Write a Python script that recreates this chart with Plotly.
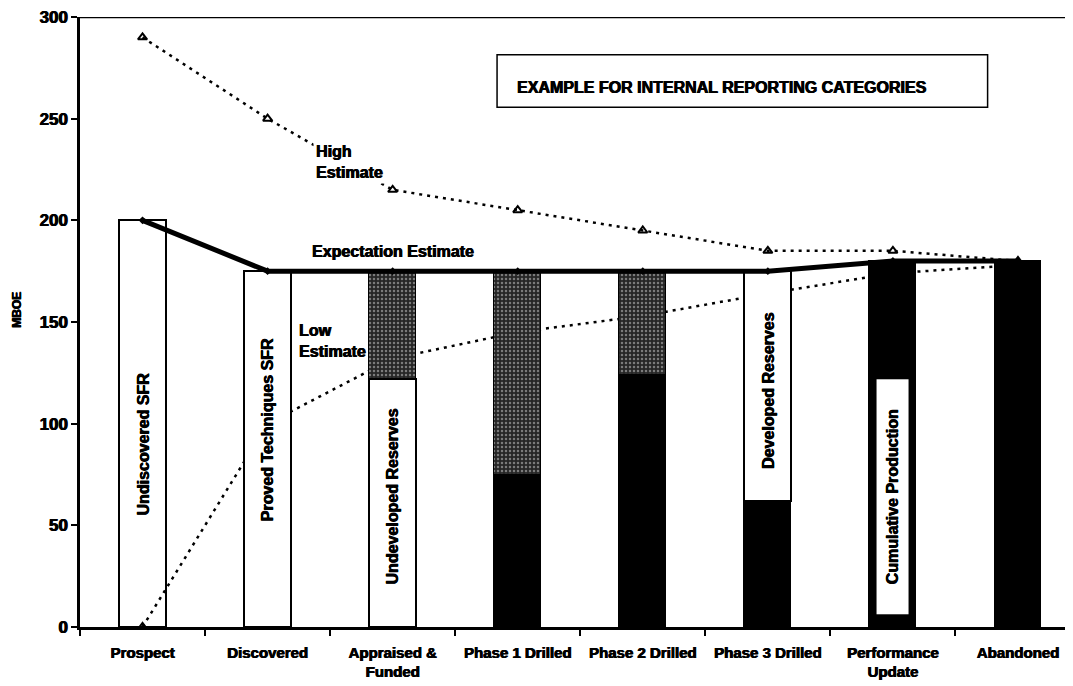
import plotly.graph_objects as go

# ---------------- data ----------------
categories = ["Prospect", "Discovered", "Appraised &<br>Funded", "Phase 1 Drilled",
              "Phase 2 Drilled", "Phase 3 Drilled", "Performance<br>Update", "Abandoned"]
cumulative_black = [0, 0, 0, 75, 124, 62, 180, 180]
white_segment = [200, 175, 122, 0, 0, 113, 0, 0]
undeveloped_grey = [0, 0, 53, 100, 51, 0, 0, 0]
high_estimate = [290, 250, 215, 205, 195, 185, 185, 180]
expectation_estimate = [200, 175, 175, 175, 175, 175, 180, 180]
low_estimate = [0, 100, 132, 145, 153, 164, 174, 178]
y_ticks = [0, 50, 100, 150, 200, 250, 300]

FONT = "Liberation Sans, Arial, Helvetica, sans-serif"
SHADOW = "0.6px 0 0 black, -0.3px 0 0 black"
xs = list(range(len(categories)))
XR = [-0.5, 7.44]
YR = [0, 300]


def nz(v):
    return [a if a else None for a in v]


fig = go.Figure()

# low estimate drawn on base axes (behind bars)
fig.add_trace(go.Scatter(
    x=xs, y=low_estimate, mode="lines+markers", xaxis="x", yaxis="y",
    line=dict(color="black", width=2.5, dash="3px,5px"),
    marker=dict(symbol="triangle-up-open", size=8, color="black", line=dict(width=2)),
    showlegend=False, hoverinfo="skip"))

white_fill = ["rgba(255,255,255,0)"] + ["white"] * (len(categories) - 1)

fig.add_trace(go.Bar(
    x=xs, y=nz(cumulative_black), xaxis="x2", yaxis="y2", width=0.375,
    marker=dict(color="black", line=dict(color="black", width=1.5)),
    showlegend=False))
fig.add_trace(go.Bar(
    x=xs, y=nz(white_segment), xaxis="x2", yaxis="y2", width=0.375,
    marker=dict(color=white_fill, line=dict(color="black", width=2)),
    showlegend=False))
fig.add_trace(go.Bar(
    x=xs, y=nz(undeveloped_grey), xaxis="x2", yaxis="y2", width=0.375,
    marker=dict(color="#262626", line=dict(color="black", width=1.5),
                pattern=dict(shape=".", fgcolor="#d0d0d0", size=4, solidity=0.3)),
    showlegend=False))

fig.add_trace(go.Scatter(
    x=xs, y=expectation_estimate, mode="lines+markers", xaxis="x2", yaxis="y2",
    line=dict(color="black", width=5),
    marker=dict(symbol="diamond", size=6, color="black"),
    showlegend=False, hoverinfo="skip"))
fig.add_trace(go.Scatter(
    x=xs, y=high_estimate, mode="lines+markers", xaxis="x2", yaxis="y2",
    line=dict(color="black", width=2.5, dash="3px,5px"),
    marker=dict(symbol="triangle-up-open", size=8, color="black", line=dict(width=2)),
    showlegend=False, hoverinfo="skip"))

lab = dict(size=16, color="black", family=FONT, shadow=SHADOW)
annotations = [
    dict(x=0, y=90, text="<b>Undiscovered SFR</b>", textangle=-90),
    dict(x=1, y=97, text="<b>Proved Techniques SFR</b>", textangle=-90),
    dict(x=2, y=64, text="<b>Undeveloped Reserves</b>", textangle=-90),
    dict(x=5, y=116.5, text="<b>Developed Reserves</b>", textangle=-90),
    dict(x=6, y=64, text="<b>Cumulative Production</b>", textangle=-90,
         bgcolor="white", width=234, height=31, borderpad=0),
    dict(x=2, y=184.5, text="<b>Expectation Estimate</b>"),
    dict(x=1.367, y=228.7, text="<b>High<br>Estimate</b>",
         xanchor="left", align="left", bgcolor="white", borderpad=2),
    dict(x=1.239, y=140.7, text="<b>Low<br>Estimate</b>", xanchor="left", align="left"),
]
for a in annotations:
    a.update(xref="x2", yref="y2", showarrow=False, font=lab)

annotations.append(dict(xref="paper", yref="paper", x=0.6465, y=0.885,
                        xanchor="center", yanchor="middle",
                        text="<b>EXAMPLE FOR INTERNAL REPORTING CATEGORIES</b>",
                        showarrow=False,
                        font=dict(size=16, color="black", family=FONT, shadow=SHADOW)))
annotations.append(dict(xref="paper", yref="paper", x=-0.0634, y=0.52,
                        xanchor="center", yanchor="middle",
                        text="<b>MBOE</b>", textangle=-90, showarrow=False,
                        font=dict(size=12, color="black", family=FONT, shadow=SHADOW)))

shapes = [
    dict(type="line", xref="paper", yref="y", x0=0, x1=1, y0=300, y1=300,
         line=dict(color="black", width=2.5)),
    dict(type="rect", xref="paper", yref="paper", x0=0.42, x1=0.914, y0=0.852, y1=0.938,
         line=dict(color="black", width=1.5), fillcolor="white", layer="below"),
]

# the page body has an 8px default margin; the figure is sized so that the
# plot area lands where the reference's is inside the 1073x686 window
fig.update_layout(
    width=1065, height=678,
    margin=dict(l=72, r=0, t=9, b=59, autoexpand=False),
    paper_bgcolor="white", plot_bgcolor="white",
    barmode="stack", bargap=0,
    showlegend=False,
    annotations=annotations, shapes=shapes,
    xaxis=dict(range=XR, tickvals=xs, ticktext=[f"<b>{c}</b>" for c in categories],
               ticks="outside", ticklen=10, tickcolor="rgba(0,0,0,0)",
               showline=True, linecolor="black", linewidth=2.5, automargin=False,
               showgrid=False, zeroline=False, fixedrange=True,
               ticklabeloverflow="allow",
               tickfont=dict(size=15, color="black", family=FONT, shadow=SHADOW),
               minor=dict(tick0=0.5, dtick=1, ticks="outside", ticklen=6,
                          tickcolor="black", tickwidth=1.5, showgrid=False)),
    yaxis=dict(range=YR, tickvals=y_ticks, ticktext=[f"<b>{t}</b>" for t in y_ticks],
               ticks="outside", ticklen=6, tickwidth=2, tickcolor="black",
               showline=True, linecolor="black", linewidth=2.5, automargin=False,
               showgrid=False, zeroline=False, fixedrange=True,
               ticklabeloverflow="allow",
               tickfont=dict(size=17, color="black", family=FONT, shadow=SHADOW)),
    xaxis2=dict(range=XR, overlaying="x", visible=False, fixedrange=True),
    yaxis2=dict(range=YR, overlaying="y", visible=False, fixedrange=True),
)

fig.write_html("out.html")
